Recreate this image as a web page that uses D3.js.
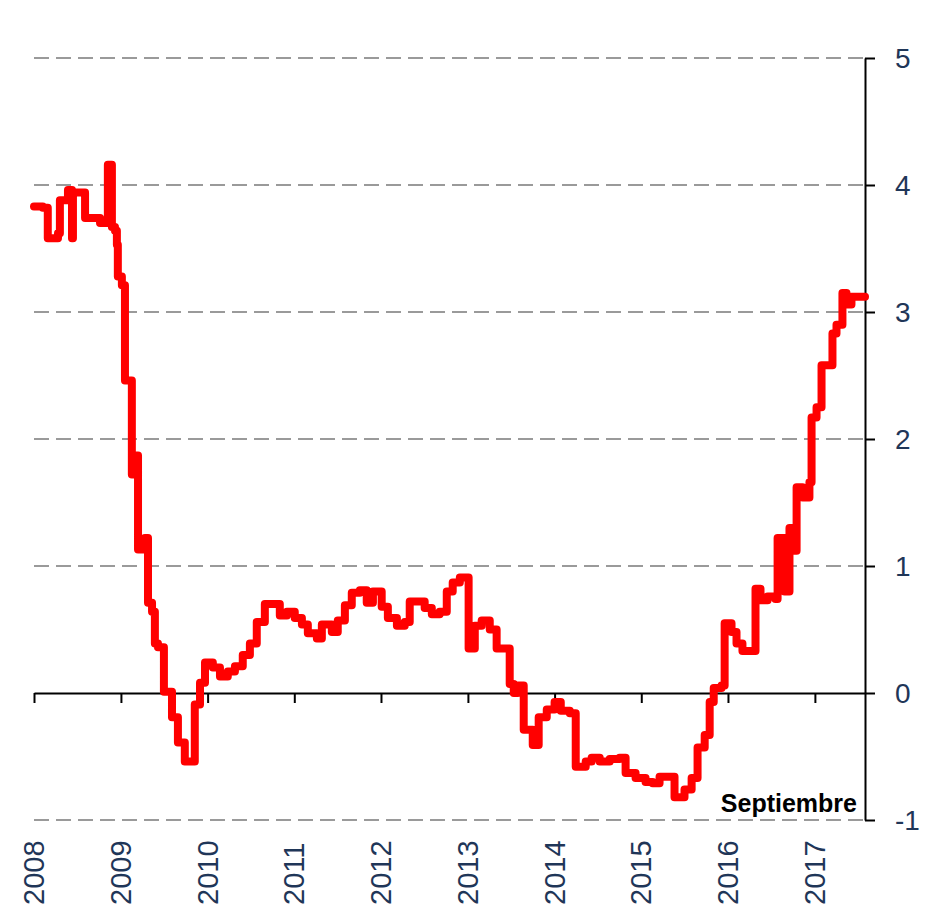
<!DOCTYPE html>
<html>
<head>
<meta charset="utf-8">
<script src="https://cdn.jsdelivr.net/npm/d3@7/dist/d3.min.js"></script>
<style>
  html, body { margin: 0; padding: 0; background: #fff; overflow: hidden; }
  svg { display: block; }
</style>
</head>
<body>
<svg id="chart" width="927" height="908"></svg>
<script>
// Change dates of the series (step series: each value holds until the next date)
const dates = [
  "2008-01-01","2008-02-07","2008-02-28","2008-04-11","2008-04-19","2008-05-23","2008-06-09","2008-06-13",
  "2008-08-03","2008-10-05","2008-11-07","2008-11-24","2008-12-07","2008-12-15","2008-12-19","2009-01-05",
  "2009-01-18","2009-02-16","2009-02-25","2009-03-14","2009-04-12","2009-04-25","2009-05-12","2009-05-24",
  "2009-06-06","2009-07-01","2009-08-04","2009-08-29","2009-09-27","2009-11-08","2009-11-30","2009-12-21",
  "2010-01-23","2010-02-22","2010-03-27","2010-04-26","2010-05-29","2010-06-28","2010-07-27","2010-08-30",
  "2010-11-01","2010-12-01","2011-01-03","2011-02-02","2011-02-27","2011-04-06","2011-04-27","2011-06-08",
  "2011-07-03","2011-08-02","2011-08-31","2011-10-04","2011-11-02","2011-11-28","2012-01-04","2012-01-30",
  "2012-03-08","2012-04-10","2012-05-01","2012-07-03","2012-08-02","2012-09-04","2012-10-04","2012-10-29",
  "2012-11-28","2013-01-04","2013-01-30","2013-02-28","2013-04-03","2013-05-02","2013-06-26","2013-07-13",
  "2013-07-30","2013-08-24","2013-10-01","2013-10-26","2013-11-29","2014-01-01","2014-01-27","2014-03-06",
  "2014-03-31","2014-05-12","2014-06-06","2014-07-10","2014-08-21","2014-10-02","2014-10-27","2014-12-08",
  "2015-01-19","2015-02-18","2015-03-19","2015-05-21","2015-07-02","2015-08-01","2015-08-26","2015-09-25",
  "2015-10-16","2015-11-02","2015-12-05","2015-12-18","2016-01-16","2016-02-06","2016-03-02","2016-04-26",
  "2016-05-17","2016-06-16","2016-07-19","2016-07-28","2016-08-26","2016-09-16","2016-10-07","2016-10-16",
  "2016-11-10","2016-12-09","2016-12-18","2017-01-08","2017-01-29","2017-03-16","2017-04-02","2017-04-27",
  "2017-05-14","2017-06-04","2017-07-31"
];

// Rate level (%) from each date on
const values = [
  3.83, 3.82, 3.58, 3.62, 3.88, 3.96, 3.58, 3.94,
  3.74, 3.70, 4.16, 3.67, 3.64, 3.53, 3.28, 3.21,
  2.46, 1.72, 1.87, 1.13, 1.22, 0.71, 0.64, 0.39,
  0.36, 0.01, -0.19, -0.39, -0.54, -0.09, 0.08, 0.24,
  0.20, 0.13, 0.17, 0.21, 0.30, 0.39, 0.56, 0.70,
  0.61, 0.64, 0.59, 0.54, 0.47, 0.43, 0.54, 0.48,
  0.57, 0.69, 0.79, 0.81, 0.71, 0.80, 0.68, 0.59,
  0.53, 0.56, 0.72, 0.67, 0.62, 0.64, 0.80, 0.87,
  0.91, 0.35, 0.53, 0.57, 0.50, 0.35, 0.07, 0.00,
  0.06, -0.29, -0.41, -0.19, -0.13, -0.07, -0.14, -0.16,
  -0.58, -0.54, -0.51, -0.54, -0.52, -0.51, -0.63, -0.67,
  -0.70, -0.71, -0.66, -0.82, -0.76, -0.67, -0.43, -0.33,
  -0.07, 0.04, 0.06, 0.55, 0.48, 0.39, 0.33, 0.82,
  0.73, 0.76, 0.74, 1.22, 0.80, 1.30, 1.12, 1.62,
  1.54, 1.66, 2.17, 2.25, 2.58, 2.83, 2.90, 3.15,
  3.06, 3.12, 3.12
];

const yearTicks = [2008, 2009, 2010, 2011, 2012, 2013, 2014, 2015, 2016, 2017];
const valueTicks = [-1, 0, 1, 2, 3, 4, 5];
const noteLabel = "Septiembre";

const parse = d3.timeParse("%Y-%m-%d");
const series = dates.map((d, i) => ({ date: parse(d), value: values[i] }));

const svg = d3.select("#chart");
const plotLeft = 34, plotRight = 865, plotTop = 58, plotBottom = 820;

const x = d3.scaleTime()
  .domain([new Date(2008, 0, 1), parse("2017-07-31")])
  .range([plotLeft, plotRight]);

const y = d3.scaleLinear()
  .domain([-1, 5])
  .range([plotBottom, plotTop]);

const labelColor = "#1f3658";
const fontFamily = "'Liberation Sans', Arial, sans-serif";

// Dashed horizontal gridlines (zero line is drawn solid by the x axis)
svg.append("g")
  .selectAll("line")
  .data(valueTicks.filter(v => v !== 0))
  .join("line")
  .attr("x1", plotLeft)
  .attr("x2", plotRight)
  .attr("y1", d => y(d))
  .attr("y2", d => y(d))
  .attr("stroke", "#9a9a9a")
  .attr("stroke-width", 2)
  .attr("stroke-dasharray", "15,7");

// Right value axis
const yAxis = svg.append("g")
  .attr("transform", `translate(${plotRight},0)`)
  .call(d3.axisRight(y).tickValues(valueTicks).tickSize(10).tickSizeOuter(0).tickFormat(d => String(d)));
yAxis.select(".domain").attr("stroke", "#000").attr("stroke-width", 2);
yAxis.selectAll(".tick line").attr("stroke", "#000").attr("stroke-width", 2);
yAxis.selectAll(".tick text")
  .attr("x", 30)
  .attr("dy", "0.35em")
  .attr("fill", labelColor)
  .style("font-family", fontFamily)
  .style("font-size", "28px");

// Time axis drawn along the zero line
const xAxis = svg.append("g")
  .attr("transform", `translate(0,${y(0)})`)
  .call(d3.axisBottom(x)
    .tickValues(yearTicks.map(yr => new Date(yr, 0, 1)))
    .tickSize(10)
    .tickSizeOuter(0)
    .tickFormat(""));
xAxis.select(".domain").attr("stroke", "#000").attr("stroke-width", 2);
xAxis.selectAll(".tick line").attr("stroke", "#000").attr("stroke-width", 2);

// Year labels, rotated, along the bottom edge
svg.append("g")
  .selectAll("text")
  .data(yearTicks)
  .join("text")
  .attr("transform", d => `translate(${x(new Date(d, 0, 1))},905) rotate(-90)`)
  .attr("text-anchor", "start")
  .attr("dy", "0.35em")
  .attr("fill", labelColor)
  .style("font-family", fontFamily)
  .style("font-size", "29px")
  .text(d => d);

// Rate series
const line = d3.line()
  .x(d => x(d.date))
  .y(d => y(d.value))
  .curve(d3.curveStepAfter);

svg.append("path")
  .datum(series)
  .attr("d", line)
  .attr("fill", "none")
  .attr("stroke", "#ff0000")
  .attr("stroke-width", 8)
  .attr("stroke-linejoin", "round")
  .attr("stroke-linecap", "round");

// Month note
svg.append("text")
  .attr("x", 857)
  .attr("y", 812)
  .attr("text-anchor", "end")
  .attr("fill", "#000")
  .style("font-family", fontFamily)
  .style("font-weight", "bold")
  .style("font-size", "25px")
  .text(noteLabel);
</script>
</body>
</html>
